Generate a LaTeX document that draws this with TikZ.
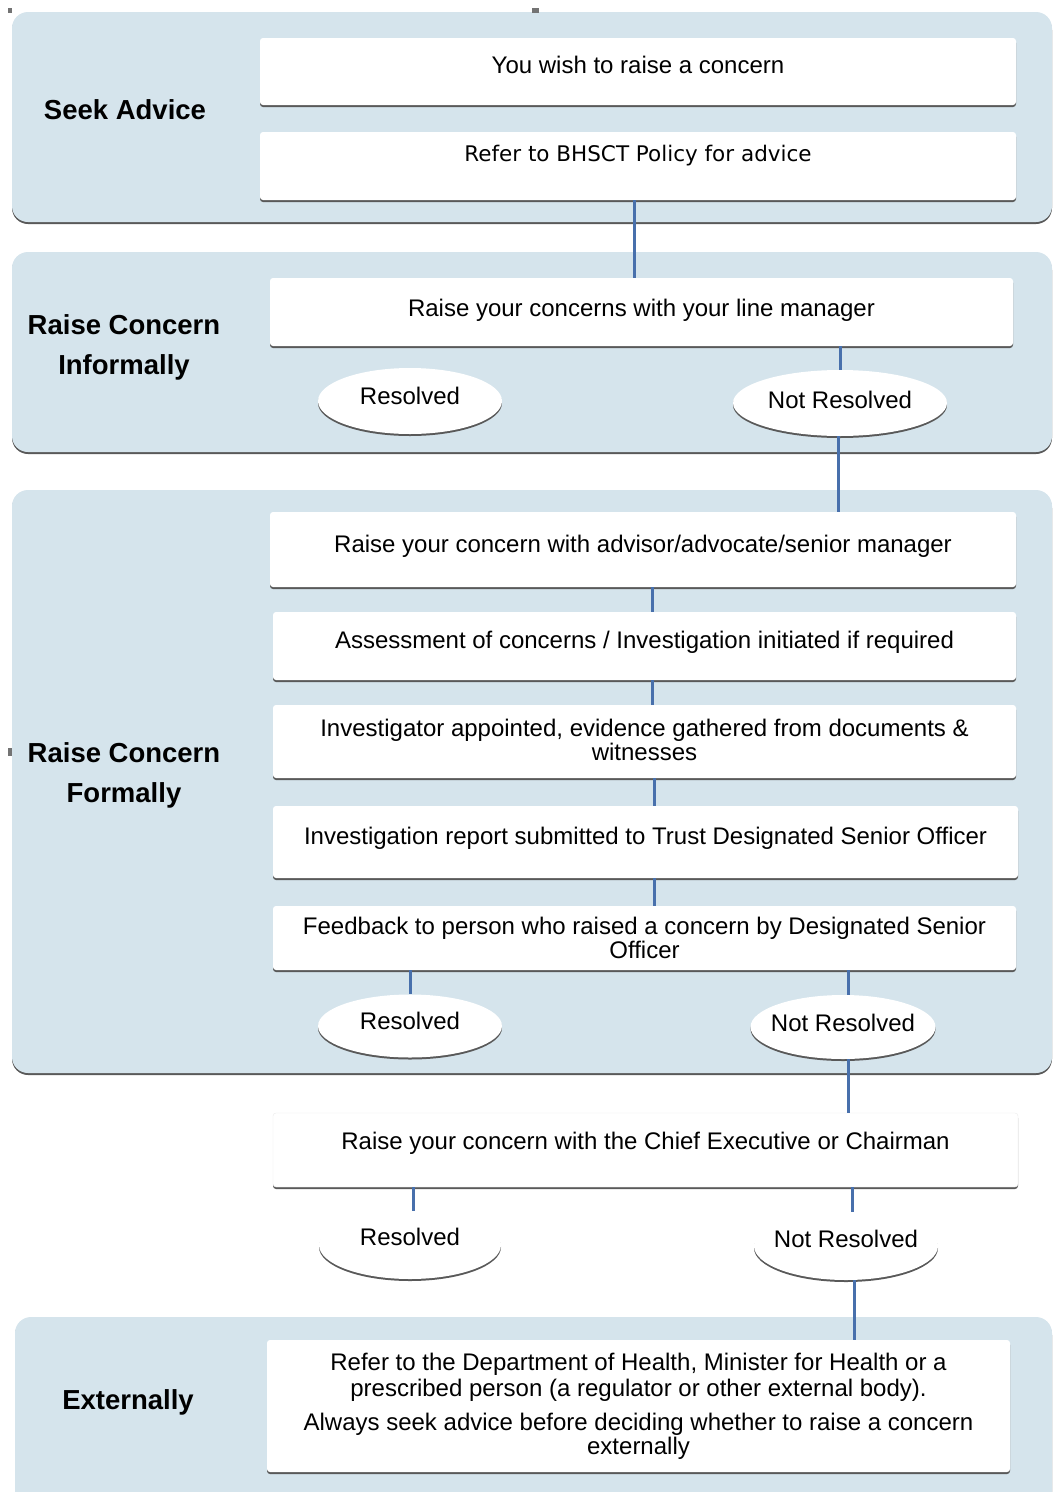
\documentclass[tikz,border=0pt]{standalone}
\usepackage{fontspec}
\setmainfont{Liberation Sans}
\newfontfamily\policyfont{DejaVu Sans}
\usetikzlibrary{shapes.geometric,shadows}
\definecolor{bandblue}{RGB}{213,228,236}
\definecolor{linkblue}{RGB}{72,112,172}
\begin{document}
\begin{tikzpicture}[x=1pt,y=-1pt,
  shadowed/.style={drop shadow={shadow xshift=0pt,shadow yshift=-2pt,fill=black!65,opacity=1}},
  band/.style={rectangle,fill=bandblue,rounded corners=16pt,shadowed,inner sep=0pt},
  stepbox/.style={rectangle,fill=white,rounded corners=3pt,shadowed,align=center,
    inner sep=0pt,font=\fontsize{24}{24}\selectfont},
  outcome/.style={ellipse,fill=white,shadowed,inner ysep=0pt,inner xsep=-20pt,
    font=\fontsize{24}{24}\selectfont},
  lift/.style={text height=17pt,text depth=#1},
  tag/.style={font=\bfseries\fontsize{27.5}{40}\selectfont,align=center},
  link/.style={draw=linkblue,line width=3pt}]
\useasboundingbox (0,0) rectangle (1054,1492);
\clip (0,0) rectangle (1054,1492);

% stage bands
\node[band,minimum width=1040,minimum height=210] (bandA) at (532,117) {};
\node[band,minimum width=1040,minimum height=200] (bandB) at (532,352) {};
\node[band,minimum width=1040,minimum height=583] (bandC) at (532,781.5) {};
\node[band,minimum width=1037,minimum height=190] (bandD) at (533.5,1412) {};

% small marks along the edges
\fill[black!55] (8,8) rectangle (12,13);
\fill[black!55] (532,8) rectangle (539,13);
\fill[black!55] (8,748) rectangle (12,756);

% stage labels
\node[tag] (tA) at (125,110) {Seek Advice};
\node[tag] (tB) at (124,347) {Raise Concern\\Informally};
\node[tag] (tC) at (124,775) {Raise Concern\\Formally};
\node[tag] (tD) at (128,1402) {Externally};

% seek advice
\node[stepbox,lift=13pt,minimum width=756,minimum height=67] (b1) at (638,71.5)
  {You wish to raise a concern};
\node[stepbox,text height=15.5pt,text depth=24pt,minimum width=756,minimum height=68,
  font=\policyfont\fontsize{21.5}{24}\selectfont] (b2) at (638,166)
  {Refer to BHSCT Policy for advice};

% informal
\node[stepbox,lift=8pt,minimum width=743,minimum height=68] (b3) at (641.5,312)
  {Raise your concerns with your line manager};
\node[outcome,lift=10pt,minimum width=184,minimum height=66] (e1) at (410,401) {Resolved};
\node[outcome,lift=6pt,minimum width=214,minimum height=66] (e2) at (840,403) {Not Resolved};

% formal
\node[stepbox,lift=11pt,minimum width=746,minimum height=75] (b4) at (643,549.5)
  {Raise your concern with advisor/advocate/senior manager};
\node[stepbox,lift=12pt,minimum width=743,minimum height=68] (b5) at (644.5,646)
  {Assessment of concerns / Investigation initiated if required};
\node[stepbox,minimum width=743,minimum height=73] (b6) at (644.5,741.5)
  {\raisebox{3pt}{Investigator appointed, evidence gathered from documents \&}\\
   \raisebox{3pt}{witnesses}};
\node[stepbox,lift=12pt,minimum width=745,minimum height=72] (b7) at (645.5,842)
  {Investigation report submitted to Trust Designated Senior Officer};
\node[stepbox,minimum width=743,minimum height=64] (b8) at (644.5,938)
  {Feedback to person who raised a concern by Designated Senior\\Officer};
\node[outcome,lift=10pt,minimum width=184,minimum height=63] (e3) at (410,1026) {Resolved};
\node[outcome,lift=8pt,minimum width=185,minimum height=64] (e4) at (843,1027) {Not Resolved};

% chief executive
\node[stepbox,lift=18pt,draw=black!8,minimum width=745,minimum height=74] (b9) at (645.5,1150)
  {Raise your concern with the Chief Executive or Chairman};
\node[outcome,lift=16pt,minimum width=182,minimum height=68] (e5) at (410,1245) {Resolved};
\node[outcome,lift=14pt,minimum width=184,minimum height=68] (e6) at (846,1246) {Not Resolved};

% external
\node[stepbox,minimum width=743,minimum height=132] (b10) at (638.5,1406)
  {Refer to the Department of Health, Minister for Health or a\\[2pt]
   prescribed person (a regulator or other external body).\\[10pt]
   Always seek advice before deciding whether to raise a concern\\
   externally};

% connector columns
\coordinate (xa) at (634,0);
\coordinate (xb) at (652,0);
\coordinate (xc) at (654,0);
\coordinate (xd) at (848,0);
\coordinate (xe) at (852,0);
\coordinate (xf) at (854,0);
\coordinate (xg) at (413,0);
\coordinate (xh) at (838,0);

% connectors
\draw[link] (b2.south -| xa) -- (b3.north -| xa);
\draw[link] (b3.south -| e2.north) -- (e2.north);
\draw[link] (e2.south -| xh) -- (b4.north -| xh);
\draw[link] (b4.south -| xb) -- (b5.north -| xb);
\draw[link] (b5.south -| xb) -- (b6.north -| xb);
\draw[link] (b6.south -| xc) -- (b7.north -| xc);
\draw[link] (b7.south -| xc) -- (b8.north -| xc);
\draw[link] (b8.south -| e3.north) -- (e3.north);
\draw[link] (b8.south -| xd) -- (e4.north -| xd);
\draw[link] (e4.south -| xd) -- (b9.north -| xd);
\draw[link] (b9.south -| xg) -- (e5.north -| xg);
\draw[link] (b9.south -| xe) -- (e6.north -| xe);
\draw[link] (e6.south -| xf) -- (b10.north -| xf);
\end{tikzpicture}
\end{document}
